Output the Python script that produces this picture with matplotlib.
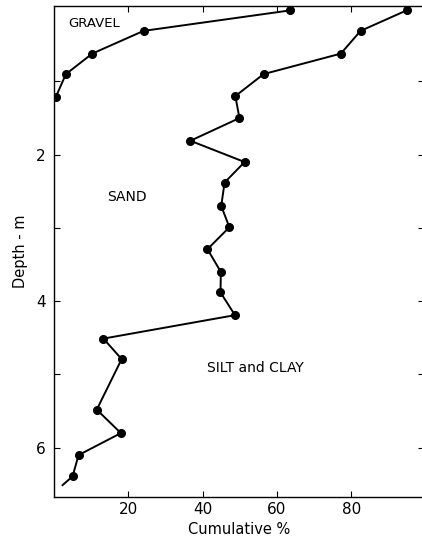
import numpy as np
import matplotlib
matplotlib.use("Agg")
from matplotlib import pyplot as plt

# gravel curve (cumulative %)
gravel_depth = [0.03, 0.31, 0.62, 0.90, 1.21]
gravel_pct = [63.6, 24.1, 10.3, 3.2, 0.5]

# gravel + sand curve (cumulative %)
sand_depth = [0.03, 0.31, 0.62, 0.90, 1.20, 1.50, 1.81, 2.10, 2.38, 2.70, 2.99,
              3.29, 3.60, 3.88, 4.19, 4.51, 4.79, 5.48, 5.80, 6.10, 6.39]
sand_pct = [94.9, 82.5, 77.2, 56.4, 48.8, 49.9, 36.7, 51.3, 45.9, 45.0, 47.2,
            41.3, 44.9, 44.8, 48.7, 13.3, 18.2, 11.5, 18.0, 6.6, 5.0]
# unmarked tail of the line
tail_depth = [6.39, 6.51]
tail_pct = [5.0, 2.3]

xticks = [20, 40, 60, 80]
ytick_labels = {2: "2", 4: "4", 6: "6"}

plt.rcParams["font.family"] = ["DejaVu Sans"]

fig = plt.figure(figsize=(4.22, 5.43), dpi=100)
# right spine sits just past the edge of the picture, as in the scan
ax = fig.add_axes([0.128, 0.085, 0.877, 0.904])

ax.plot(gravel_pct, gravel_depth, "-o", color="black", lw=1.4, ms=5.5)
ax.plot(sand_pct, sand_depth, "-o", color="black", lw=1.4, ms=5.5)
ax.plot(tail_pct, tail_depth, "-", color="black", lw=1.4)

ax.text(3.8, 0.26, "GRAVEL", fontsize=9.5)
ax.text(14.3, 2.63, "SAND", fontsize=10)
ax.text(41.2, 4.97, "SILT and CLAY", fontsize=10)

ax.set_xlim(0, 99.6)
ax.set_ylim(6.67, -0.03)
ax.set_xticks(xticks)
ax.set_yticks(np.arange(1, 7))
ax.set_yticklabels([ytick_labels.get(i, "") for i in range(1, 7)])
ax.tick_params(direction="in", length=4, width=0.8, labelsize=11,
               top=True, right=True)
ax.tick_params(axis="y", pad=6)

ax.set_xlabel("Cumulative %", fontsize=10.5, labelpad=4)
ax.set_ylabel("Depth - m", fontsize=10.5, labelpad=6)

for s in ax.spines.values():
    s.set_linewidth(1.0)

fig.savefig("out.png", dpi=100)
